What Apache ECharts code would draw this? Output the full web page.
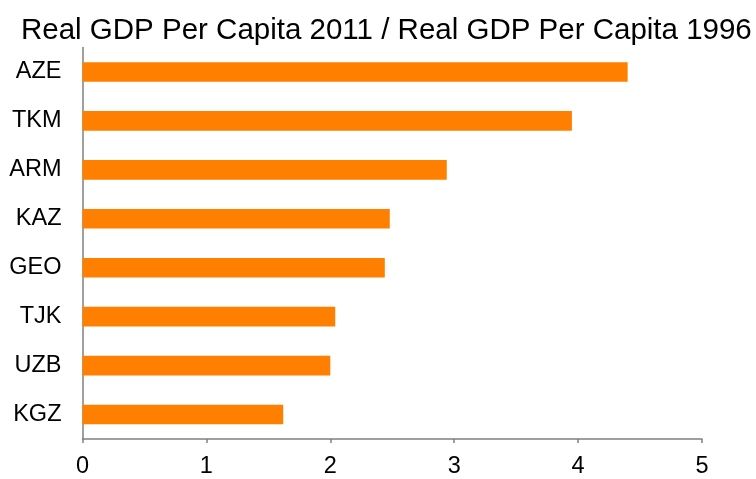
<!DOCTYPE html>
<html>
<head>
<meta charset="utf-8">
<script src="https://cdn.jsdelivr.net/npm/echarts@6/dist/echarts.min.js"></script>
<style>
  html, body { margin: 0; padding: 0; background: #fff; }
  #chart { width: 756px; height: 479px; }
</style>
</head>
<body>
<div id="chart"></div>
<script>
// countries, top to bottom in the picture
var countries = ['AZE', 'TKM', 'ARM', 'KAZ', 'GEO', 'TJK', 'UZB', 'KGZ'];
var ratios = [4.40, 3.95, 2.94, 2.48, 2.44, 2.04, 2.00, 1.62];
var xTicks = [0, 1, 2, 3, 4, 5];

var myChart = echarts.init(document.getElementById('chart'));
var option = {
    title: {
        text: 'Real GDP Per Capita 2011 / Real GDP Per Capita 1996',
        left: 16,
        top: 11,
        textStyle: {
            fontFamily: 'Liberation Sans, Arial, sans-serif',
            fontSize: 29.5,
            fontWeight: 'normal',
            color: '#000'
        }
    },
    grid: {
        left: 82.5,
        right: 54,
        top: 47.5,
        bottom: 39.5
    },
    xAxis: {
        type: 'value',
        min: xTicks[0],
        max: xTicks[xTicks.length - 1],
        interval: 1,
        splitLine: { show: false },
        axisLine: { show: true, lineStyle: { color: '#808080', width: 1.5 } },
        axisTick: { show: true, length: 4, lineStyle: { color: '#808080', width: 1.5 } },
        axisLabel: {
            margin: 16,
            fontFamily: 'Liberation Sans, Arial, sans-serif',
            fontSize: 23.5,
            color: '#000'
        }
    },
    yAxis: {
        type: 'category',
        inverse: true,
        data: countries,
        axisLine: { show: true, lineStyle: { color: '#808080', width: 1.5 } },
        axisTick: { show: false },
        axisLabel: {
            margin: 21,
            fontFamily: 'Liberation Sans, Arial, sans-serif',
            fontSize: 23.5,
            color: '#000'
        }
    },
    series: [{
        type: 'bar',
        data: ratios,
        barWidth: '40%',
        itemStyle: { color: '#FF8000' },
        silent: true
    }],
    animation: false
};
myChart.setOption(option, true);
</script>
</body>
</html>
